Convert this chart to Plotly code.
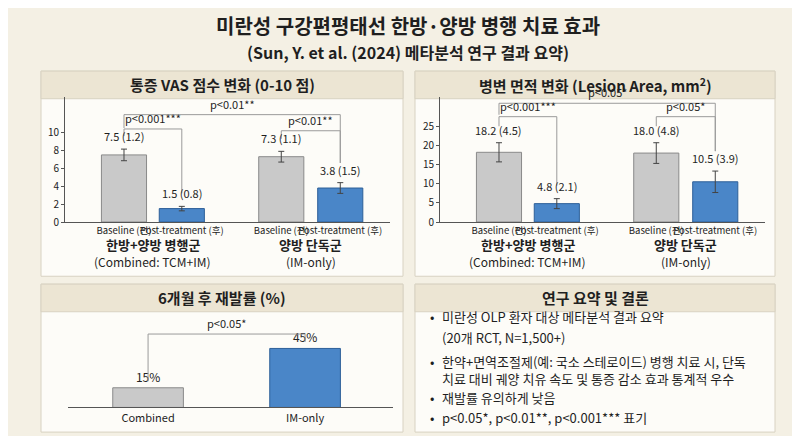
import plotly.graph_objects as go

FONT = "Noto Sans CJK KR"
W, H = 800, 436

bar_labels = ["Baseline (전)", "Post-treatment (후)", "Baseline (전)", "Post-treatment (후)"]
bar_x = [0, 1, 2.72, 3.74]
group_names = ["한방+양방 병행군", "양방 단독군"]
group_sub = ["(Combined: TCM+IM)", "(IM-only)"]

vas_mean = [7.5, 1.5, 7.3, 3.8]
vas_sd = [1.2, 0.8, 1.1, 1.5]
vas_err = [0.65, 0.25, 0.6, 0.6]

lesion_mean = [18.2, 4.8, 18.0, 10.5]
lesion_sd = [4.5, 2.1, 4.8, 3.9]
lesion_err = [2.5, 1.3, 2.7, 2.8]

rec_groups = ["Combined", "IM-only"]
rec_rate = [15, 45]

summary_lines = [
    ("•", "미란성 OLP 환자 대상 메타분석 결과 요약"),
    ("", "(20개 RCT, N=1,500+)"),
    ("•", "한약+면역조절제(예: 국소 스테로이드) 병행 치료 시, 단독"),
    ("", "치료 대비 궤양 치유 속도 및 통증 감소 효과 통계적 우수"),
    ("•", "재발률 유의하게 낮음"),
    ("•", "p<0.05*, p<0.01**, p<0.001*** 표기"),
]
summary_y = [313, 334, 358, 376, 395, 415]

GRAY, GRAY_E = "#c9c9c9", "#8a8a8a"
BLUE, BLUE_E = "#4a86c8", "#2d5f98"
LINE = "#9a9a9a"


def px(x):
    return x / W


def py(y):
    return 1 - y / H


def text(x, y, t, size, xref="paper", yref="paper", **kw):
    d = dict(xref=xref, yref=yref, x=x, y=y, text=t, showarrow=False,
             font=dict(size=size, color="#1f1f1f"))
    d.setdefault("xanchor", "center")
    d["yanchor"] = "middle"
    d.update(kw)
    return d


fig = go.Figure()
shapes, annos = [], []

for x0, y0, x1, y1, title in [
    (33, 64, 395, 272, "통증 VAS 점수 변화 (0-10 점)"),
    (407, 64, 767, 272, "병변 면적 변화 (Lesion Area, mm<sup>2</sup>)"),
    (33, 280, 395, 430, "6개월 후 재발률 (%)"),
    (407, 280, 767, 430, "연구 요약 및 결론"),
]:
    shapes.append(dict(type="rect", xref="paper", yref="paper", x0=px(x0), x1=px(x1),
                       y0=py(y1), y1=py(y0), fillcolor="#fdfcf8",
                       line=dict(color="#d8d2c2", width=1), layer="below"))
    shapes.append(dict(type="rect", xref="paper", yref="paper", x0=px(x0), x1=px(x1),
                       y0=py(y0 + 28), y1=py(y0), fillcolor="#ece5d3",
                       line=dict(color="#d8d2c2", width=1), layer="below"))
    annos.append(text(px((x0 + x1) / 2), py(y0 + 14), f"<b>{title}</b>", 15))

annos.append(text(0.5, py(18), "<b>미란성 구강편평태선 한방·양방 병행 치료 효과</b>", 20))
annos.append(text(0.5, py(45), "<b>(Sun, Y. et al. (2024) 메타분석 연구 결과 요약)</b>", 16))


def bar_panel(xa, ya, means, sds, errs, brackets):
    fig.add_trace(go.Bar(
        x=bar_x, y=means, xaxis=xa, yaxis=ya, width=0.78,
        marker=dict(color=[GRAY, BLUE, GRAY, BLUE],
                    line=dict(color=[GRAY_E, BLUE_E, GRAY_E, BLUE_E], width=1)),
        error_y=dict(type="data", array=errs, color="#444", thickness=1, width=3),
        showlegend=False,
    ))
    for x, m, s, e in zip(bar_x, means, sds, errs):
        annos.append(text(x, m + e, f"{m:.1f} ({s:.1f})", 11, xa, ya,
                          yanchor="bottom", yshift=3))
    for xs, ys, label in brackets:
        path = f"M {xs[0]} {ys[0]} L {xs[0]} {ys[1]} L {xs[1]} {ys[1]} L {xs[1]} {ys[2]}"
        shapes.append(dict(type="path", xref=xa, yref=ya, path=path,
                           line=dict(color=LINE, width=1)))
        annos.append(text((xs[0] + xs[1]) / 2, ys[1], label, 11, xa, ya,
                          yanchor="bottom", yshift=1))
    for cx, name, sub in zip([0.5, 3.23], group_names, group_sub):
        annos.append(text(cx, py(240), f"<b>{name}</b>", 13, xa))
        annos.append(text(cx, py(257), sub, 12, xa))


bar_panel("x", "y", vas_mean, vas_sd, vas_err, [
    ((0, 3.74), (10.5, 12.0, 6.6), "p<0.01**"),
    ((0, 1), (9.6, 10.4, 3.2), "p<0.001***"),
    ((2.72, 3.74), (9.3, 10.2, 6.6), "p<0.01**"),
])
bar_panel("x2", "y2", lesion_mean, lesion_sd, lesion_err, [
    ((0, 3.74), (28, 31, 18.5), "p<0.05*"),
    ((0, 1), (25, 27.5, 9.5), "p<0.001***"),
    ((2.72, 3.74), (25, 27.5, 18.5), "p<0.05*"),
])

fig.add_trace(go.Bar(
    x=[0, 1], y=rec_rate, xaxis="x3", yaxis="y3", width=0.45,
    marker=dict(color=[GRAY, BLUE], line=dict(color=[GRAY_E, BLUE_E], width=1)),
    text=[f"{v}%" for v in rec_rate], textposition="outside",
    textfont=dict(size=12, color="#222"), cliponaxis=False, showlegend=False,
))
shapes.append(dict(type="path", xref="x3", yref="y3",
                   path="M 0 20 L 0 56 L 1 56 L 1 50",
                   line=dict(color=LINE, width=1)))
annos.append(text(0.5, 56, "p<0.05*", 11, "x3", "y3", yanchor="bottom", yshift=1))

for (b, t), y in zip(summary_lines, summary_y):
    if b:
        annos.append(text(px(420), py(y), b, 13, xanchor="left"))
    annos.append(text(px(432), py(y), t, 13, xanchor="left"))

ax = dict(showgrid=False, zeroline=False, showline=True, linecolor="#555",
          tickfont=dict(size=10, color="#222"))
xax = dict(ax, ticks="", tickangle=0, tickfont=dict(size=9.5, color="#222"))
yax = dict(ax, ticks="outside", ticklen=3, tickcolor="#555")
fig.update_layout(
    width=W, height=H, margin=dict(l=0, r=0, t=0, b=0),
    paper_bgcolor="#f4f0e4", plot_bgcolor="rgba(0,0,0,0)",
    font=dict(family=FONT, color="#222"),
    shapes=shapes, annotations=annos,
    xaxis=dict(xax, domain=[px(57), px(382)], range=[-1.02, 4.6], tickvals=bar_x,
               ticktext=bar_labels, anchor="y"),
    yaxis=dict(yax, domain=[py(217), py(90)], range=[0, 14],
               tickvals=[0, 2, 4, 6, 8, 10], anchor="x"),
    xaxis2=dict(xax, domain=[px(432), px(757)], range=[-1.02, 4.6], tickvals=bar_x,
                ticktext=bar_labels, anchor="y2"),
    yaxis2=dict(yax, domain=[py(217), py(90)], range=[0, 32.7],
                tickvals=[0, 5, 10, 15, 20, 25], anchor="x2"),
    xaxis3=dict(xax, domain=[px(60), px(385)], range=[-0.51, 1.56], tickvals=[0, 1],
                ticktext=rec_groups, anchor="y3", tickfont=dict(size=11, color="#222")),
    yaxis3=dict(domain=[py(405), py(308)], range=[0, 73], visible=False, anchor="x3"),
)
fig.write_html("out.html")
